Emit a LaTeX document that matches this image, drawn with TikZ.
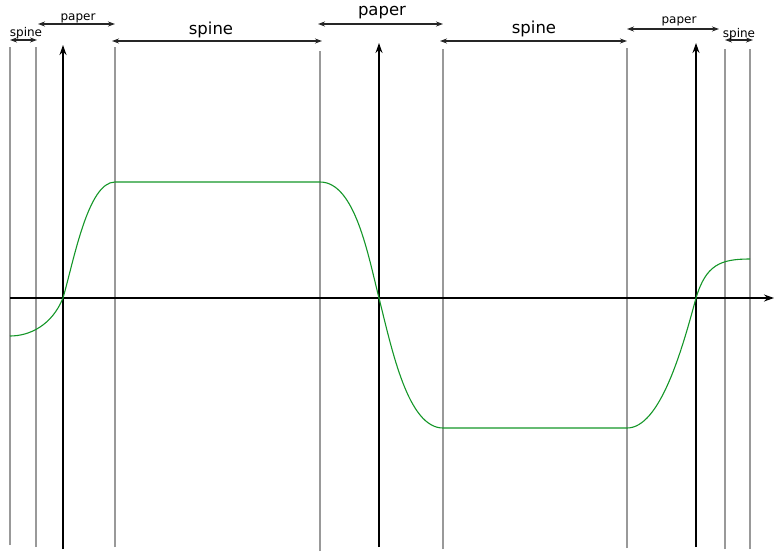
\documentclass[tikz,border=0pt]{standalone}
\usepackage{fontspec}
\setmainfont{DejaVu Sans}
\usetikzlibrary{arrows.meta}
\begin{document}
\begin{tikzpicture}[x=1pt,y=-1pt,
  guide/.style={draw=black!40, line width=1.2pt},
  axisline/.style={draw=black, line width=1.4pt, -{Stealth[length=10pt,width=7pt]}},
  dim/.style={draw=black!85, line width=1.1pt, {Stealth[length=7pt,width=5pt]}-{Stealth[length=7pt,width=5pt]}},
  wave/.style={draw={rgb,255:red,20;green,150;blue,40}, line width=1.1pt},
  biglab/.style={anchor=base, inner sep=0pt, font=\fontsize{16.5}{17}\selectfont},
  smalllab/.style={anchor=base, inner sep=0pt, font=\fontsize{12}{12}\selectfont}]
\useasboundingbox (0,0) rectangle (774,552);
% gray guide lines
\foreach \n/\x/\t/\b in {a/10/47/545, b/36/47/547, c/115/47/547, d/320/51/551, e/443/49/549, f/627/48/548, g/725/49/549, h/750/49/549}{
  \coordinate (\n t) at (\x,\t);
  \coordinate (\n b) at (\x,\b);
  \draw[guide] (\n b) -- (\n t);
}
% black axes
\foreach \n/\x/\t/\b in {p/63/45/549, q/379/43/547, r/696/43/547}{
  \coordinate (\n t) at (\x,\t);
  \coordinate (\n b) at (\x,\b);
  \draw[axisline] (\n b) -- (\n t);
}
\coordinate (xs) at (10,298);
\coordinate (xe) at (774,298);
\draw[axisline] (xs) -- (xe);
% dimension arrows
\coordinate (s1a) at (10,40);  \coordinate (s1b) at (37,40);
\coordinate (p1a) at (38,24);  \coordinate (p1b) at (115,24);
\coordinate (s2a) at (112,41); \coordinate (s2b) at (322,41);
\coordinate (p2a) at (318,24); \coordinate (p2b) at (443,24);
\coordinate (s3a) at (440,41); \coordinate (s3b) at (627,41);
\coordinate (p3a) at (627,29); \coordinate (p3b) at (719,29);
\coordinate (s4a) at (725,40); \coordinate (s4b) at (753,40);
\draw[dim] (s1a) -- (s1b);
\draw[dim] (p1a) -- (p1b);
\draw[dim] (s2a) -- (s2b);
\draw[dim] (p2a) -- (p2b);
\draw[dim] (s3a) -- (s3b);
\draw[dim] (p3a) -- (p3b);
\draw[dim] (s4a) -- (s4b);
% labels
\node[smalllab] (ls1) at (26,36) {spine};
\node[smalllab] (lp1) at (78,20) {paper};
\node[biglab] (ls2) at (211,34) {spine};
\node[biglab] (lp2) at (382,15) {paper};
\node[biglab] (ls3) at (534,33) {spine};
\node[smalllab] (lp3) at (679,23) {paper};
\node[smalllab] (ls4) at (739,37) {spine};
% curve
\draw[wave] (10,336) .. controls (30,336) and (52,325) .. (63,298)
  .. controls (74,260) and (88,182) .. (115,182)
  -- (320,182)
  .. controls (355,182) and (368,255) .. (379,298)
  .. controls (392,350) and (408,428) .. (443,428)
  -- (627,428)
  .. controls (660,428) and (682,350) .. (696,298)
  .. controls (706,265) and (720,259) .. (750,259);
\end{tikzpicture}
\end{document}
